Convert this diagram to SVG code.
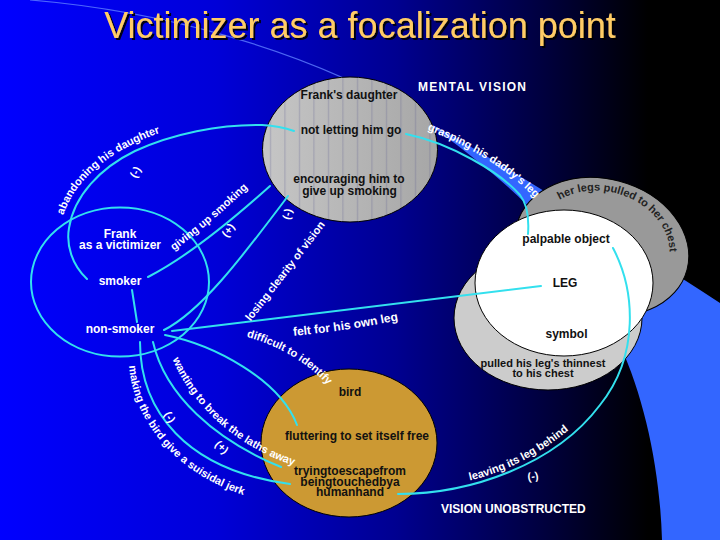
<svg xmlns="http://www.w3.org/2000/svg" width="720" height="540" viewBox="0 0 720 540">
  <defs>
    <linearGradient id="bg" x1="0" y1="0" x2="720" y2="0" gradientUnits="userSpaceOnUse">
      <stop offset="0" stop-color="#0000ff"/>
      <stop offset="0.3" stop-color="#0000d8"/>
      <stop offset="0.55" stop-color="#000090"/>
      <stop offset="0.75" stop-color="#000040"/>
      <stop offset="0.9" stop-color="#000000"/>
    </linearGradient>
    <linearGradient id="grayfill" x1="0" y1="0" x2="1" y2="0">
      <stop offset="0" stop-color="#c6c6c6"/>
      <stop offset="1" stop-color="#a6a6a6"/>
    </linearGradient>
    <pattern id="stripes" x="264" y="0" width="14.5" height="10" patternUnits="userSpaceOnUse">
      <rect x="6" y="0" width="1" height="10" fill="#5a5a90" fill-opacity="0.35"/>
    </pattern>
    <filter id="shadow" x="-5%" y="-20%" width="110%" height="150%">
      <feDropShadow dx="2" dy="2" stdDeviation="0.4" flood-color="#000000" flood-opacity="0.9"/>
    </filter>
    <path id="lp-abandon" d="M 62,220 C 72,182 108,150 165,131"/>
    <path id="lp-giving" d="M 172,252 Q 208,226 250,186"/>
    <path id="lp-losing" d="M 250,322 Q 282,282 326,224"/>
    <path id="lp-felt" d="M 292,336 Q 345,331 400,320"/>
    <path id="lp-difficult" d="M 243,336 C 268,342 305,358 330,388"/>
    <path id="lp-wanting" d="M 172,358 C 190,402 232,445 295,466"/>
    <path id="lp-making" d="M 129,363 C 132,418 172,472 246,496"/>
    <path id="lp-leaving" d="M 467,481 C 500,474 537,457 571,428"/>
    <path id="lp-grasping" d="M 425,129 C 460,142 505,166 537,200"/>
    <path id="lp-chest" d="M 552.2,205.1 A 68 55 15 0 1 658.8,281.8"/>
  </defs>
  <style>
    .node-text { font-family: "Liberation Sans", Arial, sans-serif; font-weight: bold; font-size: 12px; text-anchor: middle; }
    .dark { fill: #111111; }
    .light { fill: #ffffff; }
    .small { font-size: 11px; }
    .lbl { font-family: "Liberation Sans", Arial, sans-serif; font-weight: bold; font-size: 11px; fill: #ffffff; }
    .conn { fill: none; stroke: #33e0ee; stroke-width: 2; stroke-linecap: round; }
    .outline { stroke: #000000; stroke-width: 1; }
    .title { font-family: "Liberation Sans", Arial, sans-serif; font-size: 36px; text-anchor: middle; fill: #ffcc66; }
  </style>

  <!-- background -->
  <rect x="0" y="0" width="720" height="540" fill="url(#bg)"/>
  <g id="decoration">
    <path d="M 30,0 C 150,10 300,45 420,118" fill="none" stroke="#5f7fff" stroke-width="1.2" stroke-opacity="0.8"/>
    <path d="M 420,118 C 480,150 600,225 720,303 L 720,540 L 662,540 C 660,470 645,400 620,345 C 595,290 565,240 527,205 C 500,178 465,150 420,118 Z" fill="#3366ff"/>
  </g>

  <g id="title">
    <text class="title" x="360" y="38" filter="url(#shadow)">Victimizer as a focalization point</text>
  </g>

  <g id="mental-vision">
    <text class="node-text light" x="418" y="91" style="text-anchor:start" textLength="108" lengthAdjust="spacing">MENTAL VISION</text>
  </g>
  <g id="vision-unobstructed">
    <text class="node-text light" x="441" y="513" style="text-anchor:start">VISION UNOBSTRUCTED</text>
  </g>

  <g id="daughter">
    <ellipse cx="350" cy="149.5" rx="87.5" ry="72.5" fill="url(#grayfill)"/>
    <ellipse cx="350" cy="149.5" rx="87.5" ry="72.5" fill="url(#stripes)" class="outline"/>
    <text class="node-text dark" x="349" y="99">Frank's daughter</text>
    <text class="node-text dark" x="351" y="134">not letting him go</text>
    <text class="node-text dark" x="349" y="182.5">encouraging him to</text>
    <text class="node-text dark" x="349.5" y="194.5">give up smoking</text>
  </g>

  <g id="bird">
    <ellipse cx="349" cy="443" rx="88" ry="74" fill="#cc9933" class="outline"/>
    <text class="node-text dark" x="350" y="396">bird</text>
    <text class="node-text dark" x="357" y="440">fluttering to set itself free</text>
    <text class="node-text dark" x="350" y="474.5">tryingtoescapefrom</text>
    <text class="node-text dark" x="350" y="485.5">beingtouchedbya</text>
    <text class="node-text dark" x="350" y="496">humanhand</text>
  </g>

  <g id="leg">
    <ellipse cx="602" cy="247" rx="88" ry="68" transform="rotate(15 602 247)" fill="#999999" class="outline"/>
    <ellipse cx="548" cy="318" rx="94" ry="72" fill="#cccccc" class="outline"/>
    <ellipse cx="564" cy="283" rx="89" ry="73" fill="#ffffff" class="outline"/>
    <text class="node-text small" style="text-anchor:start" fill="#222222"><textPath href="#lp-chest" startOffset="9">her legs pulled to her chest</textPath></text>
    <text class="node-text dark" x="566" y="242.7">palpable object</text>
    <text class="node-text dark" x="565" y="286.7">LEG</text>
    <text class="node-text dark" x="566.5" y="338.3">symbol</text>
    <text class="node-text dark small" x="543" y="366.7">pulled his leg's thinnest</text>
    <text class="node-text dark small" x="543" y="377.3">to his chest</text>
  </g>

  <g id="frank">
    <ellipse cx="120" cy="282" rx="89" ry="74.5" class="conn"/>
    <text class="node-text light" x="120" y="238">Frank</text>
    <text class="node-text light" x="120" y="249">as a victimizer</text>
    <text class="node-text light" x="120" y="285">smoker</text>
    <text class="node-text light" x="120" y="333">non-smoker</text>
  </g>

  <g id="connectors">
    <path class="conn" d="M 87,279 C 72,265 66,245 69,228 C 74,196 100,168 135,151 C 172,134 220,124 262,125 Q 280,126 294,131"/>
    <path class="conn" d="M 148,277 C 185,258 230,222 270,186"/>
    <path class="conn" d="M 164,330 C 200,312 240,260 288,196"/>
    <path class="conn" d="M 172,331 L 541,286"/>
    <path class="conn" d="M 165,335 C 215,345 280,380 297,425"/>
    <path class="conn" d="M 153,342 C 165,395 215,440 281,467"/>
    <path class="conn" d="M 140,342 C 140,410 185,470 290,484"/>
    <path class="conn" d="M 406,134 C 450,143 500,172 520,195 C 528,205 529,220 528,234"/>
    <path class="conn" d="M 398,494 C 470,494 555,465 600,405 C 640,355 635,290 613,248"/>
    <path class="conn" d="M 132,290 L 137,322"/>
  </g>

  <g id="connector-labels">
    <text class="lbl" text-anchor="middle"><textPath href="#lp-abandon" startOffset="50%">abandoning his daughter</textPath></text>
    <text class="lbl" text-anchor="middle"><textPath href="#lp-giving" startOffset="50%">giving up smoking</textPath></text>
    <text class="lbl" text-anchor="middle"><textPath href="#lp-losing" startOffset="50%">losing clearity of vision</textPath></text>
    <text class="lbl" text-anchor="middle" style="font-size:12px"><textPath href="#lp-felt" startOffset="50%">felt for his own leg</textPath></text>
    <text class="lbl" text-anchor="middle"><textPath href="#lp-difficult" startOffset="50%">difficult to identify</textPath></text>
    <text class="lbl" text-anchor="middle"><textPath href="#lp-wanting" startOffset="50%">wanting to break the laths away</textPath></text>
    <text class="lbl" text-anchor="middle"><textPath href="#lp-making" startOffset="50%">making the bird give a suisidal jerk</textPath></text>
    <text class="lbl" text-anchor="middle"><textPath href="#lp-leaving" startOffset="50%">leaving its leg behind</textPath></text>
    <text class="lbl" text-anchor="middle"><textPath href="#lp-grasping" startOffset="50%">grasping his daddy's leg</textPath></text>
    <text class="lbl" text-anchor="middle" transform="rotate(-62 135 172)" x="135" y="176">(-)</text>
    <text class="lbl" text-anchor="middle" transform="rotate(-55 228 230)" x="228" y="234">(+)</text>
    <text class="lbl" text-anchor="middle" transform="rotate(-75 287 214)" x="287" y="218">(-)</text>
    <text class="lbl" text-anchor="middle" transform="rotate(60 170 417)" x="170" y="421">(-)</text>
    <text class="lbl" text-anchor="middle" transform="rotate(45 222 447)" x="222" y="451">(+)</text>
    <text class="lbl" text-anchor="middle" transform="rotate(-8 533 476)" x="533" y="480">(-)</text>
  </g>
</svg>
